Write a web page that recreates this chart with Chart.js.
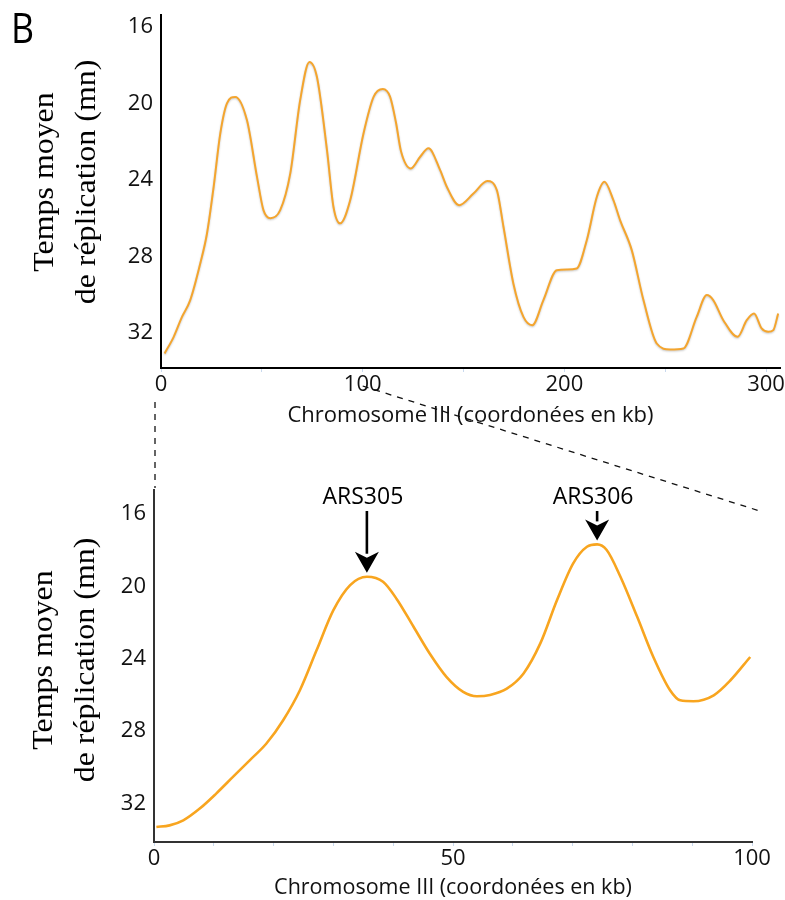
<!DOCTYPE html>
<html><head><meta charset="utf-8">
<script src="https://cdn.jsdelivr.net/npm/chart.js@4.4.1/dist/chart.umd.min.js"></script>
<style>
html,body{margin:0;padding:0;background:#fff;}
#wrap{position:relative;width:785px;height:900px;overflow:hidden;background:#fff;}
canvas{position:absolute;left:0;}
#c1{top:0}
#c2{top:450px}
#ov{top:0;pointer-events:none}
</style></head><body>
<div id="wrap">
<canvas id="c1" width="785" height="450"></canvas>
<canvas id="c2" width="785" height="450"></canvas>
<canvas id="ov" width="785" height="900"></canvas>
</div>
<script>
// ---------- data ----------
const topKb = [1.8, 6.3, 10.4, 14.5, 19.5, 22.8, 26.1, 29.4, 32.7, 36.8, 42.6, 47.6, 50.8, 54.2, 59.1, 64.1, 69.0, 73.6, 77.3, 82.3, 85.5, 88.8, 93.8, 100.4, 105.4, 110.0, 113.6, 116.5, 119.0, 123.9, 128.5, 132.6, 138.4, 141.7, 147.8, 154.9, 161.8, 166.5, 169.8, 174.7, 179.7, 184.1, 189.6, 196.2, 201.2, 206.1, 211.1, 216.1, 219.8, 224.3, 227.6, 233.4, 239.2, 245.8, 252.4, 259.0, 265.6, 270.6, 273.8, 278.8, 285.9, 290.4, 294.0, 297.8, 301.1, 303.6, 306.0];
const topTime = [33.07, 32.2, 31.16, 30.28, 28.35, 26.8, 24.36, 21.57, 20.0, 19.66, 20.87, 23.84, 25.58, 26.0, 25.58, 23.66, 19.83, 17.83, 18.61, 22.44, 25.4, 26.27, 25.06, 21.57, 19.66, 19.25, 19.66, 21.0, 22.5, 23.4, 22.79, 22.35, 23.49, 24.36, 25.32, 24.71, 24.06, 24.53, 26.45, 29.41, 31.16, 31.59, 30.28, 28.72, 28.68, 28.63, 27.15, 24.88, 24.1, 25.06, 26.1, 27.67, 30.28, 32.55, 32.86, 32.81, 31.16, 30.02, 30.28, 31.33, 32.2, 31.33, 30.98, 31.76, 31.94, 31.85, 30.98];

const zoomKb = [0.4, 2.6, 4.9, 7.65, 10.4, 13.2, 16.0, 18.8, 21.6, 24.4, 27.2, 30.0, 32.8, 35.6, 38.3, 40.6, 43.4, 46.1, 48.9, 51.7, 54.0, 56.2, 59.0, 61.8, 64.6, 67.4, 70.1, 72.4, 74.1, 75.7, 78.0, 80.8, 83.5, 86.3, 88.0, 90.2, 93.6, 96.4, 99.7];
const zoomTime = [33.31, 33.22, 32.94, 32.29, 31.46, 30.54, 29.62, 28.69, 27.4, 25.74, 23.52, 21.31, 19.92, 19.46, 19.74, 20.7, 22.23, 23.71, 25.0, 25.83, 26.07, 26.0, 25.65, 24.81, 23.15, 20.75, 18.72, 17.8, 17.67, 17.98, 19.46, 21.68, 23.9, 25.74, 26.3, 26.35, 26.02, 25.19, 23.9];

const yTickValues = [16, 20, 24, 28, 32];
const topXTickValues = [0, 50, 100, 150, 200, 250, 300];
const topXLabels = [0, 100, 200, 300];
const zoomXTickValues = [0, 10, 20, 30, 40, 50, 60, 70, 80, 90, 100];
const zoomXLabels = [0, 50, 100];

const yTitleLines = ['Temps moyen', 'de réplication (mn)'];
const xTitle = 'Chromosome III (coordonées en kb)';
const panelLabel = 'B';

const originNames = ['ARS305', 'ARS306'];
const originKb = [35.6, 74.1];
const originTime = [19.46, 17.67];

// ---------- helpers ----------
function yTitlePlugin(b1, b2, cy) {
  return {
    id: 'ytitle',
    afterDraw(chart) {
      const ctx = chart.ctx;
      ctx.save();
      ctx.fillStyle = '#000';
      ctx.font = 'normal 400 28.5px "Liberation Serif", "Times New Roman", serif';
      ctx.textAlign = 'center';
      ctx.textBaseline = 'alphabetic';
      [[yTitleLines[0], b1], [yTitleLines[1], b2]].forEach(([t, bx]) => {
        ctx.save();
        ctx.translate(bx, cy);
        ctx.rotate(-Math.PI / 2);
        ctx.scale(1.12, 1);
        ctx.fillText(t, 0, 0);
        ctx.restore();
      });
      ctx.restore();
    }
  };
}

function baseScales(o) {
  return {
    x: {
      type: 'linear', min: o.xmin, max: o.xmax,
      afterBuildTicks: s => { s.ticks = o.xTicks.map(v => ({ value: v })); },
      afterFit: s => { s.height = o.xHeight; s.paddingLeft = 0; s.paddingRight = 0; },
      ticks: {
        autoSkip: false, maxRotation: 0, minRotation: 0, padding: 0, color: '#111',
        font: { family: 'Open Sans', size: 22 },
        callback: v => (o.xLabels.includes(v) ? String(v) : '')
      },
      grid: { drawOnChartArea: false, drawTicks: true, tickLength: 4, color: '#c9d9ee', lineWidth: 1 },
      border: { display: true, color: o.axisColor, width: 2 },
      title: {
        display: true, text: xTitle, color: '#111',
        font: { family: 'Open Sans', size: o.xTitleSize, lineHeight: 1.1 },
        padding: { top: 0, bottom: o.xTitlePad }
      }
    },
    y: {
      type: 'linear', reverse: true, min: o.ymin, max: o.ymax,
      afterBuildTicks: s => { s.ticks = yTickValues.map(v => ({ value: v })); },
      afterFit: s => { s.width = o.yWidth; s.paddingTop = 0; s.paddingBottom = 0; },
      ticks: { padding: 8, color: '#111', font: { family: 'Open Sans', size: 22 } },
      grid: { display: false, drawTicks: false },
      border: { display: true, color: o.axisColor, width: 2 }
    }
  };
}

const shadowPlugin = {
  id: 'lineshadow',
  beforeDatasetDraw(chart) {
    const ctx = chart.ctx;
    ctx.save();
    ctx.shadowColor = 'rgba(0,0,0,0.22)';
    ctx.shadowBlur = 2;
    ctx.shadowOffsetY = 1;
  },
  afterDatasetDraw(chart) { chart.ctx.restore(); }
};

const panelPlugin = {
  id: 'panel',
  afterDraw(chart) {
    const ctx = chart.ctx;
    ctx.save();
    ctx.fillStyle = '#000';
    ctx.font = '42px "Open Sans"';
    ctx.textBaseline = 'alphabetic';
    ctx.translate(11, 43);
    ctx.scale(0.85, 1);
    ctx.fillText(panelLabel, 0, 0);
    ctx.restore();
  }
};

const arrowPlugin = {
  id: 'arrows',
  afterDatasetsDraw(chart) {
    const ctx = chart.ctx;
    const xs = chart.scales.x, ys = chart.scales.y;
    ctx.save();
    originNames.forEach((name, i) => {
      const x = xs.getPixelForValue(originKb[i]);
      const tip = ys.getPixelForValue(originTime[i]) - 4;
      const shaftTop = 61;
      const headLen = 21, headHalf = 12;
      ctx.strokeStyle = '#000';
      ctx.fillStyle = '#000';
      ctx.lineWidth = 2.6;
      ctx.beginPath();
      ctx.moveTo(x, shaftTop);
      ctx.lineTo(x, tip - headLen + 2);
      ctx.stroke();
      ctx.beginPath();
      ctx.moveTo(x, tip);
      ctx.lineTo(x - headHalf, tip - headLen);
      ctx.lineTo(x, tip - headLen + 6);
      ctx.lineTo(x + headHalf, tip - headLen);
      ctx.closePath();
      ctx.fill();
      ctx.font = '23px "Open Sans"';
      ctx.textAlign = 'center';
      ctx.textBaseline = 'middle';
      ctx.fillText(name, x - 4, 47);
    });
    ctx.restore();
  }
};

// ---------- top chart ----------
const topChart = new Chart(document.getElementById('c1'), {
  type: 'line',
  data: {
    datasets: [{
      data: topKb.map((x, i) => ({ x, y: topTime[i] })),
      borderColor: '#f4a52e', borderWidth: 2, pointRadius: 0,
      tension: 0.4, cubicInterpolationMode: 'monotone', fill: false
    }]
  },
  options: {
    responsive: false, animation: false, events: [],
    layout: { padding: { left: 0, right: 5, top: 15, bottom: 0 } },
    plugins: { legend: { display: false }, tooltip: { enabled: false } },
    scales: baseScales({
      xmin: 0, xmax: 306.9, xTicks: topXTickValues, xLabels: topXLabels, xHeight: 82,
      xTitleSize: 22, xTitlePad: 22, ymin: 15.38, ymax: 33.83, yWidth: 161, axisColor: '#000'
    })
  },
  plugins: [shadowPlugin, yTitlePlugin(53, 95, 182), panelPlugin]
});

// ---------- bottom (zoom) chart ----------
const zoomChart = new Chart(document.getElementById('c2'), {
  type: 'line',
  data: {
    datasets: [{
      data: zoomKb.map((x, i) => ({ x, y: zoomTime[i] })),
      borderColor: '#f8a51f', borderWidth: 2.6, pointRadius: 0,
      tension: 0.4, cubicInterpolationMode: 'monotone', fill: false
    }]
  },
  options: {
    responsive: false, animation: false, events: [],
    layout: { padding: { left: 0, right: 33, top: 40, bottom: 0 } },
    plugins: { legend: { display: false }, tooltip: { enabled: false } },
    scales: baseScales({
      xmin: 0, xmax: 100, xTicks: zoomXTickValues, xLabels: zoomXLabels, xHeight: 58,
      xTitleSize: 21.5, xTitlePad: 0, ymin: 14.66, ymax: 34.14, yWidth: 154, axisColor: '#333'
    })
  },
  plugins: [arrowPlugin, yTitlePlugin(52, 94, 210)]
});

// ---------- dashed zoom connectors ----------
(function () {
  const ov = document.getElementById('ov').getContext('2d');
  const off = 450;
  const ta = topChart.chartArea, ba = zoomChart.chartArea;
  ov.save();
  ov.strokeStyle = '#111';
  ov.lineWidth = 1.3;
  ov.setLineDash([6, 6]);
  ov.beginPath();
  ov.moveTo(ba.left + 1, ta.bottom + 34);
  ov.lineTo(ba.left + 1, off + ba.top - 2);
  ov.stroke();
  ov.beginPath();
  ov.moveTo(topChart.scales.x.getPixelForValue(100), ta.bottom + 18);
  ov.lineTo(ba.right + 11, off + ba.top + 22);
  ov.stroke();
  ov.restore();
})();
</script>
</body></html>
